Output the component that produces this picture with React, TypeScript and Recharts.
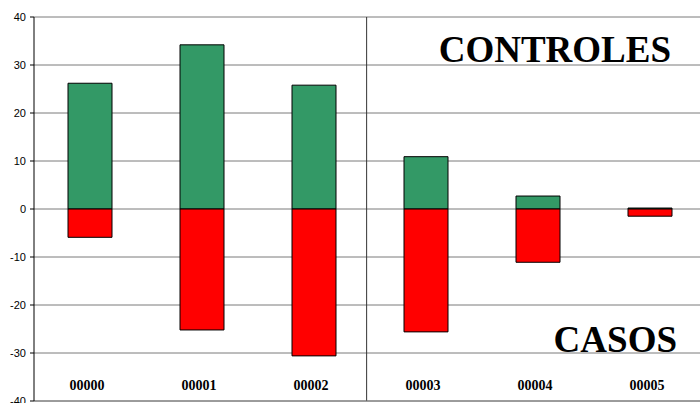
import { Bar, BarChart, CartesianGrid, ReferenceLine, XAxis, YAxis } from 'recharts';

const muestras = ['00000', '00001', '00002', '00003', '00004', '00005'];
const controles = [26.2, 34.2, 25.8, 10.9, 2.7, 0.2];
const casos = [-5.9, -25.2, -30.6, -25.6, -11.1, -1.5];
const yTicks = [-40, -30, -20, -10, 0, 10, 20, 30, 40];

// pos = centre of each category slot on a 0..6 numeric scale, used for the separator line
const data = muestras.map((m, i) => ({ muestra: m, pos: i + 0.5, controles: controles[i], casos: casos[i] }));

const serif = '"Liberation Serif", "Times New Roman", serif';
const sans = '"Liberation Sans", Arial, sans-serif';

// sample names sit inside the plot, just above the bottom axis
function MuestraTick(props: any) {
  const { x, y, payload } = props;
  return (
    <text x={x - 3} y={y - 11} textAnchor="middle" fontFamily={serif} fontWeight="bold" fontSize={14} fill="#000">
      {payload.value}
    </text>
  );
}

export default function App() {
  return (
    <div style={{ position: 'absolute', left: 0, top: 0, width: 700, height: 403, overflow: 'hidden', background: '#fff' }}>
      <BarChart
        width={710}
        height={403}
        data={data}
        stackOffset="sign"
        barSize={44}
        margin={{ top: 17, right: 4, left: 0, bottom: 1 }}
      >
        <CartesianGrid vertical={false} stroke="#7a7a7a" />
        <XAxis
          dataKey="muestra"
          height={1}
          tickSize={0}
          tickMargin={0}
          tickLine={false}
          axisLine={{ stroke: '#7a7a7a' }}
          tick={<MuestraTick />}
          interval={0}
        />
        <XAxis xAxisId="sep" dataKey="pos" type="number" domain={[0, 6]} allowDataOverflow hide />
        <YAxis
          width={34}
          domain={[-40, 40]}
          ticks={yTicks}
          interval={0}
          tickSize={4}
          tickMargin={4}
          axisLine={{ stroke: '#000' }}
          tickLine={{ stroke: '#000' }}
          tick={{ fontFamily: sans, fontSize: 11, fill: '#000' }}
        />
        <ReferenceLine xAxisId="sep" x={2.97} stroke="#333" strokeWidth={1} />
        <Bar dataKey="controles" stackId="a" fill="#339966" stroke="#000" strokeWidth={1} isAnimationActive={false} />
        <Bar dataKey="casos" stackId="a" fill="#ff0000" stroke="#000" strokeWidth={1} isAnimationActive={false} />
        <text x={671} y={62} textAnchor="end" fontFamily={serif} fontWeight="bold" fontSize={37} fill="#000">
          CONTROLES
        </text>
        <text x={677} y={352} textAnchor="end" fontFamily={serif} fontWeight="bold" fontSize={37} fill="#000">
          CASOS
        </text>
      </BarChart>
    </div>
  );
}
